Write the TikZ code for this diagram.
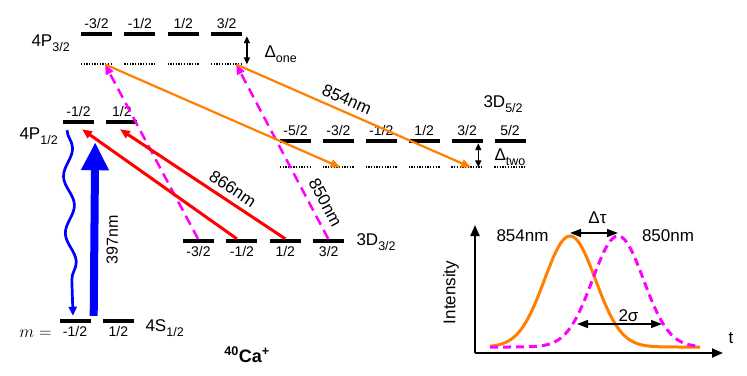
\documentclass[tikz,border=0pt]{standalone}
\usepackage{fontspec}
\setmainfont{Liberation Sans}
\usepackage{xcolor}
\usetikzlibrary{arrows.meta,positioning,decorations.pathmorphing}

\definecolor{orange854}{RGB}{255,128,0}
\definecolor{magenta850}{RGB}{255,0,255}
\newcommand{\lowsub}[1]{\raisebox{-5pt}{\fontsize{12.5}{13}\selectfont #1}}

\begin{document}
\begin{tikzpicture}[
    x=1pt, y=-1pt,
    font=\fontsize{17}{19}\selectfont,
    level/.style={fill=black, minimum width=31pt, minimum height=4pt, inner sep=0pt},
    virt/.style={minimum width=31pt, minimum height=0pt, inner sep=0pt},
    dotline/.style={line width=2pt, dash pattern=on 1.3pt off 1.4pt},
    mlab/.style={font=\fontsize{14}{15}\selectfont},
    tip/.style={-{Triangle[length=10pt, width=8pt]}},
    beam854/.style={tip, orange854, line width=2.2pt},
    beam850/.style={tip, magenta850, line width=2.5pt, dash pattern=on 10pt off 6pt},
    beam866/.style={tip, red, line width=3pt},
    wlabel/.style={sloped, text=black},
    split/.style={{Triangle[length=7pt, width=6pt]}-{Triangle[length=7pt, width=6pt]}, line width=1.5pt},
    gap/.style={{Triangle[length=11pt, width=8pt]}-{Triangle[length=11pt, width=8pt]}, line width=1.5pt},
    axis/.style={-{Triangle[length=11pt, width=9pt]}, line width=2pt}
]
\useasboundingbox (0,0) rectangle (747,375);

% 4P3/2 levels
\node[level, label={[mlab]above:-3/2}] (p32a) at (96.5,34) {};
\node[level, right=12pt of p32a, label={[mlab]above:-1/2}] (p32b) {};
\node[level, right=12pt of p32b, label={[mlab]above:1/2}] (p32c) {};
\node[level, right=12pt of p32c, label={[mlab]above:3/2}] (p32d) {};
\node[virt, below=28pt of p32a] (v32a) {};
\node[virt, below=28pt of p32b] (v32b) {};
\node[virt, below=28pt of p32c] (v32c) {};
\node[virt, below=28pt of p32d] (v32d) {};
\node[anchor=base west] (lp32) at (28,46) {4P\lowsub{3/2}};
\node[anchor=base west] (done) at (261,57) {Δ\lowsub{one}};

% 4P1/2 levels
\node[level, label={[mlab]above:-1/2}] (p12a) at (78.5,122) {};
\node[level, right=12pt of p12a, label={[mlab]above:1/2}] (p12b) {};
\node[anchor=base west] (lp12) at (16,139) {4P\lowsub{1/2}};

% 4S1/2 levels
\node[level, label={[mlab]below:-1/2}] (s12a) at (75,320.7) {};
\node[level, right=12pt of s12a, label={[mlab]below:1/2}] (s12b) {};
\node[anchor=base west] (ls12) at (142,331.7) {4S\lowsub{1/2}};
\node[anchor=base east, font=\fontsize{16}{17}\selectfont] (mlabel) at (55,337) {$m=$};

% 3D3/2 levels
\node[level, label={[mlab]below:-3/2}] (d32a) at (198.5,241) {};
\node[level, right=12pt of d32a, label={[mlab]below:-1/2}] (d32b) {};
\node[level, right=12pt of d32b, label={[mlab]below:1/2}] (d32c) {};
\node[level, right=12pt of d32c, label={[mlab]below:3/2}] (d32d) {};
\node[anchor=base west] (ld32) at (353,245) {3D\lowsub{3/2}};

% 3D5/2 levels
\node[level, label={[mlab]above:-5/2}] (d52a) at (295.5,141) {};
\node[level, right=11.5pt of d52a, label={[mlab]above:-3/2}] (d52b) {};
\node[level, right=11.5pt of d52b, label={[mlab]above:-1/2}] (d52c) {};
\node[level, right=11.5pt of d52c, label={[mlab]above:1/2}] (d52d) {};
\node[level, right=11.5pt of d52d, label={[mlab]above:3/2}] (d52e) {};
\node[level, right=11.5pt of d52e, label={[mlab]above:5/2}] (d52f) {};
\node[virt, below=24pt of d52a] (v52a) {};
\node[virt, below=24pt of d52b] (v52b) {};
\node[virt, below=24pt of d52c] (v52c) {};
\node[virt, below=24pt of d52d] (v52d) {};
\node[virt, below=24pt of d52e] (v52e) {};
\node[virt, below=24pt of d52f] (v52f) {};
\node[anchor=base west] (ld52) at (480,107) {3D\lowsub{5/2}};
\node[anchor=base west] (dtwo) at (491,160) {Δ\lowsub{two}};

\node[anchor=base, font=\fontsize{18}{20}\selectfont\bfseries] (ion) at (247,362) {\textsuperscript{40}Ca\textsuperscript{+}};

% virtual levels
\foreach \v in {v32a,v32b,v32c,v32d,v52a,v52b,v52c,v52d,v52e,v52f}
    \draw[dotline] (\v.west) -- (\v.east);

% detunings
\draw[split] ([xshift=4.5pt]p32d.south east) -- ([xshift=4.5pt]v32d.east);
\draw[split] ([xshift=-4.5pt]d52e.south east) -- ([xshift=-4.5pt]v52e.east);

% Transitions
\draw[blue, line width=8pt, -{Triangle[length=28pt, width=26pt]}] ([xshift=3pt, yshift=2.7pt]s12a.north east) -- node[wlabel, below=5pt, pos=0.44, font=\fontsize{16}{18}\selectfont] {397nm} ([xshift=1pt, yshift=-18pt]p12a.south east);
\draw[blue, line width=2.7pt, -{Triangle[length=9pt, width=8pt]}, decorate, decoration={snake, amplitude=5pt, segment length=57pt, post length=10pt}] ([xshift=-11.5pt, yshift=-6pt]p12a.south) -- ([xshift=-2pt, yshift=2.7pt]s12a.north);

\draw[beam850] ([xshift=-0.5pt]d32a.north) -- ([xshift=8.5pt]v32a.center);
\draw[beam850] ([xshift=-0.5pt]d32d.north) -- node[wlabel, above=4pt, pos=0.17] {850nm} ([xshift=9.5pt]v32d.center);

\draw[beam866] ([xshift=-5pt]d32b.north) -- ([xshift=3.5pt, yshift=-5pt]p12a.south);
\draw[beam866] (d32c.north) -- node[wlabel, above=2pt, pos=0.36] {866nm} ([xshift=-2pt, yshift=-5pt]p12b.south);

\draw[beam854] ([xshift=8.5pt]v32a.center) -- ([xshift=2pt]v52b.center);
\draw[beam854] ([xshift=9.5pt]v32d.center) -- node[wlabel, above=2pt, pos=0.45] {854nm} ([xshift=4pt]v52e.center);

% Pulse plot
\coordinate (orig) at (475,353);
\coordinate (ytip) at (475,225);
\coordinate (xtip) at (723,353);
\draw[axis] (orig) -- (ytip);
\draw[axis] (orig) -- (xtip);
\draw[orange854, line width=3pt] plot[domain=490:700, samples=90] (\x, {347-111*exp(-0.5*((\x-570)/25.5)*((\x-570)/25.5))});
\draw[magenta850, line width=3pt, dash pattern=on 8pt off 5pt] plot[domain=490:700, samples=90] (\x, {347-111*exp(-0.5*((\x-618)/25.5)*((\x-618)/25.5))});

\coordinate (tauL) at (570,233);
\coordinate (tauR) at (618,233);
\coordinate (sigL) at (577,324);
\coordinate (sigR) at (662,324);
\draw[gap] (tauL) -- (tauR);
\draw[gap] (sigL) -- (sigR);

\node (lab854) at (522.5,236) {854nm};
\node (lab850) at (668,236) {850nm};
\node (ltau) at (597.5,217.5) {Δτ};
\node (lsig) at (628.5,315.5) {2σ};
\node[rotate=90] (ylab) at (451,292.5) {Intensity};
\node (xlab) at (731,338) {t};

\end{tikzpicture}
\end{document}
